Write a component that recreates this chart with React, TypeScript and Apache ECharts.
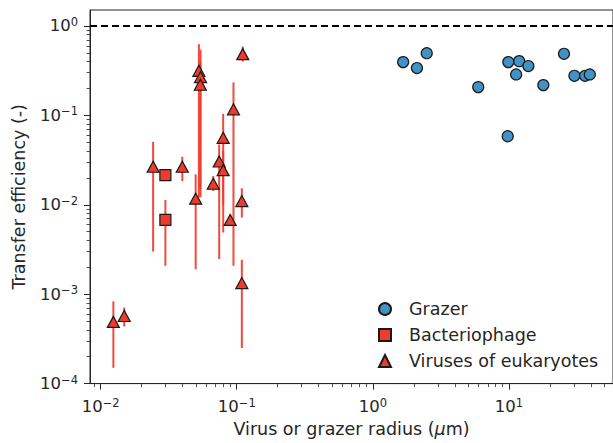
import React, { useEffect, useRef } from "react";
import * as echarts from "echarts";

const grazerX = [1.67, 2.11, 2.49, 5.95, 9.9, 11.9, 11.3, 13.9, 9.8, 17.9, 25.4, 30.3, 36.3, 39.3];
const grazerY = [0.394, 0.338, 0.496, 0.207, 0.394, 0.404, 0.287, 0.356, 0.0584, 0.218, 0.488, 0.277, 0.277, 0.287];

const phageX = [0.0299, 0.0299];
const phageY = [0.0215, 0.00677];
const phageLo = [0.0215, 0.00208];
const phageHi = [0.0215, 0.0113];

const virusX = [0.0124, 0.0149, 0.0243, 0.0398, 0.0499, 0.0527, 0.0542, 0.054, 0.0672, 0.0743, 0.0795, 0.0795, 0.0946, 0.0895, 0.1107, 0.109, 0.109];
const virusY = [0.00049, 0.00057, 0.0266, 0.0266, 0.0117, 0.315, 0.268, 0.22, 0.0172, 0.0305, 0.0561, 0.0244, 0.1168, 0.00677, 0.484, 0.011, 0.00133];
const virusLo = [0.00015, 0.000435, 0.003, 0.0184, 0.0019, 0.0121, 0.0121, 0.015, 0.0143, 0.00247, 0.0049, 0.01, 0.00208, 0.0058, 0.4, 0.0072, 0.00025];
const virusHi = [0.00083, 0.00071, 0.0506, 0.0344, 0.0219, 0.625, 0.54, 0.4, 0.0209, 0.0472, 0.1038, 0.04, 0.2335, 0.0078, 0.588, 0.0153, 0.00243];

const xMajor = [0.01, 0.1, 1, 10];
const yMajor = [0.0001, 0.001, 0.01, 0.1, 1];
const xDecades = [0.001, 0.01, 0.1, 1, 10];
const yDecades = [0.0001, 0.001, 0.01, 0.1, 1];

const FONT = "DejaVu Sans";
const TXT = "#262626";
const RED = "#ef3b2c";
const BLUE = "#4292c6";

function minorTicks(decades: number[]) {
  const out: number[] = [];
  decades.forEach((d) => {
    for (let k = 2; k <= 9; k++) out.push(+(d * k).toPrecision(6));
  });
  return out;
}

function powLabel(v: number) {
  const e = Math.round(Math.log10(v));
  const s = e < 0 ? "\u2212" + -e : String(e);
  return "10{sup|" + s + "}";
}

const rich = {
  sup: { fontSize: 11.5, fontFamily: FONT, color: TXT, verticalAlign: "top", padding: [0, 0, 8, 0] },
};

export default function App() {
  const ref = useRef<HTMLDivElement>(null);
  useEffect(() => {
    if (!ref.current) return;
    const chart = echarts.init(ref.current, null, { renderer: "svg" });
    const xMin = 0.00835, xMax = 58.2, yMin = 0.0001, yMax = 1.508;
    const errRender = (params: any, api: any) => {
      const x = api.value(0);
      const p1 = api.coord([x, api.value(1)]);
      const p2 = api.coord([x, api.value(2)]);
      return {
        type: "line",
        shape: { x1: p1[0], y1: p1[1], x2: p2[0], y2: p2[1] },
        style: { stroke: RED, lineWidth: 2, opacity: 0.92 },
      };
    };
    const option: any = {
      animation: false,
      grid: { left: 90, right: -2, top: 10, bottom: 58, show: true, borderColor: TXT, borderWidth: 1, backgroundColor: "transparent" },
      legend: {
        orient: "vertical",
        left: 378,
        top: 300,
        padding: 0,
        itemWidth: 12,
        itemHeight: 12,
        itemGap: 8,
        data: [
          { name: "Grazer", icon: "circle" },
          { name: "Bacteriophage", icon: "rect" },
          { name: "Viruses of eukaryotes", icon: "triangle" },
        ],
        textStyle: { fontFamily: FONT, fontSize: 17.5, color: TXT, padding: [0, 0, 0, 13] },
      },
      xAxis: [
        {
          type: "log",
          min: xMin,
          max: xMax,
          position: "bottom",
          name: "Virus or grazer radius ({it|\u03bc}m)",
          nameLocation: "middle",
          nameGap: 32,
          nameTextStyle: {
            fontFamily: FONT,
            fontSize: 17.5,
            color: TXT,
            rich: { it: { fontFamily: FONT, fontSize: 17.5, color: TXT, fontStyle: "italic" } },
          },
          axisLine: { show: true, lineStyle: { color: TXT, width: 1 } },
          axisTick: { show: true, length: 6, customValues: xMajor, lineStyle: { color: TXT, width: 1 } },
          axisLabel: { show: true, customValues: xMajor, formatter: powLabel, rich, fontFamily: FONT, fontSize: 16.5, color: TXT, margin: 13 },
          splitLine: { show: false },
        },
        {
          type: "log",
          min: xMin,
          max: xMax,
          position: "bottom",
          axisLine: { show: false },
          axisTick: { show: true, length: 3.5, customValues: minorTicks(xDecades), lineStyle: { color: TXT, width: 0.8 } },
          axisLabel: { show: false },
          splitLine: { show: false },
        },
      ],
      yAxis: [
        {
          type: "log",
          min: yMin,
          max: yMax,
          position: "left",
          name: "Transfer efficiency (-)",
          nameLocation: "middle",
          nameGap: 62,
          nameTextStyle: { fontFamily: FONT, fontSize: 17.5, color: TXT },
          axisLine: { show: true, lineStyle: { color: TXT, width: 1 } },
          axisTick: { show: true, length: 6, customValues: yMajor, lineStyle: { color: TXT, width: 1 } },
          axisLabel: { show: true, customValues: yMajor, formatter: powLabel, rich, fontFamily: FONT, fontSize: 16.5, color: TXT, margin: 12 },
          splitLine: { show: false },
        },
        {
          type: "log",
          min: yMin,
          max: yMax,
          position: "left",
          axisLine: { show: false },
          axisTick: { show: true, length: 3.5, customValues: minorTicks(yDecades), lineStyle: { color: TXT, width: 0.8 } },
          axisLabel: { show: false },
          splitLine: { show: false },
        },
      ],
      series: [
        {
          name: "errPhage",
          type: "custom",
          xAxisIndex: 0,
          yAxisIndex: 0,
          renderItem: errRender,
          encode: { x: 0, y: [1, 2] },
          data: phageX.map((x, i) => [x, phageLo[i], phageHi[i]]),
          z: 1,
          silent: true,
        },
        {
          name: "errVirus",
          type: "custom",
          xAxisIndex: 0,
          yAxisIndex: 0,
          renderItem: errRender,
          encode: { x: 0, y: [1, 2] },
          data: virusX.map((x, i) => [x, virusLo[i], virusHi[i]]),
          z: 1,
          silent: true,
        },
        {
          name: "Grazer",
          type: "scatter",
          xAxisIndex: 0,
          yAxisIndex: 0,
          symbol: "circle",
          symbolSize: 11,
          itemStyle: { color: BLUE, borderColor: "#1a1a1a", borderWidth: 1.2, opacity: 1 },
          data: grazerX.map((x, i) => [x, grazerY[i]]),
          z: 3,
          markLine: {
            silent: true,
            symbol: "none",
            label: { show: false },
            lineStyle: { color: "#000", width: 2, type: [7, 4] },
            data: [{ yAxis: 1 }],
          },
        },
        {
          name: "Bacteriophage",
          type: "scatter",
          xAxisIndex: 0,
          yAxisIndex: 0,
          symbol: "rect",
          symbolSize: 11,
          itemStyle: { color: RED, borderColor: "#1a1a1a", borderWidth: 1.2, opacity: 1 },
          data: phageX.map((x, i) => [x, phageY[i]]),
          z: 3,
        },
        {
          name: "Viruses of eukaryotes",
          type: "scatter",
          xAxisIndex: 0,
          yAxisIndex: 0,
          symbol: "triangle",
          symbolSize: [12, 11],
          itemStyle: { color: RED, borderColor: "#1a1a1a", borderWidth: 1.2, opacity: 1 },
          data: virusX.map((x, i) => [x, virusY[i]]),
          z: 3,
        },
      ],
    };
    chart.setOption(option);
    return () => chart.dispose();
  }, []);
  return <div ref={ref} style={{ position: "absolute", left: 0, top: 0, width: 613, height: 443 }} />;
}
